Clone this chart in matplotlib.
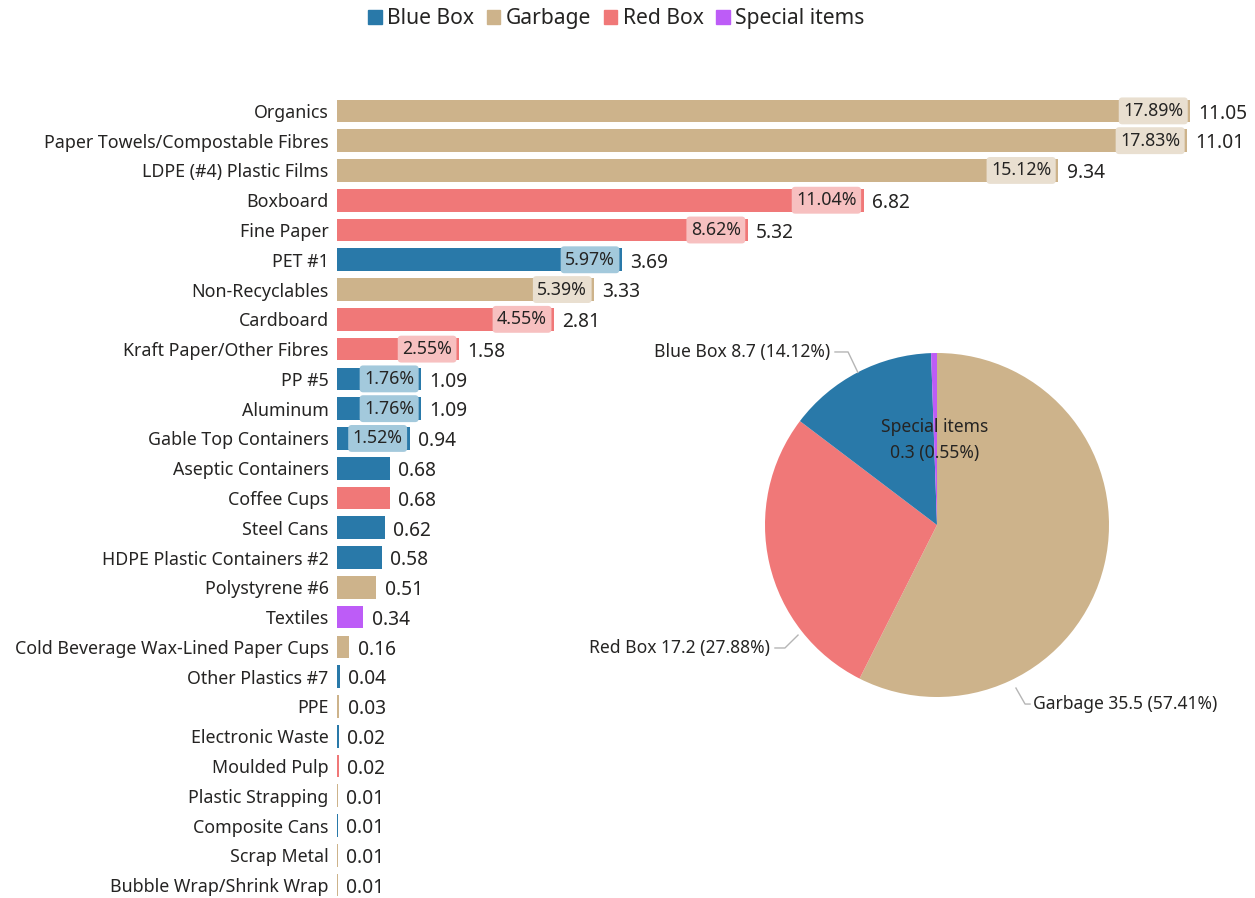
import matplotlib
matplotlib.use("Agg")
import matplotlib.pyplot as plt
from matplotlib.patches import Patch

plt.rcParams['font.family'] = ['Noto Sans', 'DejaVu Sans']

# Category data
categories = ['Organics', 'Paper Towels/Compostable Fibres', 'LDPE (#4) Plastic Films', 'Boxboard',
              'Fine Paper', 'PET #1', 'Non-Recyclables', 'Cardboard', 'Kraft Paper/Other Fibres',
              'PP #5', 'Aluminum', 'Gable Top Containers', 'Aseptic Containers', 'Coffee Cups',
              'Steel Cans', 'HDPE Plastic Containers #2', 'Polystyrene #6', 'Textiles',
              'Cold Beverage Wax-Lined Paper Cups', 'Other Plastics #7', 'PPE', 'Electronic Waste',
              'Moulded Pulp', 'Plastic Strapping', 'Composite Cans', 'Scrap Metal',
              'Bubble Wrap/Shrink Wrap']
values = [11.05, 11.01, 9.34, 6.82, 5.32, 3.69, 3.33, 2.81, 1.58, 1.09, 1.09, 0.94, 0.68, 0.68,
          0.62, 0.58, 0.51, 0.34, 0.16, 0.04, 0.03, 0.02, 0.02, 0.01, 0.01, 0.01, 0.01]
streams = ['Garbage', 'Garbage', 'Garbage', 'Red Box', 'Red Box', 'Blue Box', 'Garbage', 'Red Box',
           'Red Box', 'Blue Box', 'Blue Box', 'Blue Box', 'Blue Box', 'Red Box', 'Blue Box', 'Blue Box',
           'Garbage', 'Special items', 'Garbage', 'Blue Box', 'Garbage', 'Blue Box', 'Red Box',
           'Garbage', 'Blue Box', 'Garbage', 'Garbage']
pct_labels = ['17.89%', '17.83%', '15.12%', '11.04%', '8.62%', '5.97%', '5.39%', '4.55%', '2.55%',
              '1.76%', '1.76%', '1.52%']

# Pie data
pie_names = ['Garbage', 'Red Box', 'Blue Box', 'Special items']
pie_values = ['35.5', '17.2', '8.7', '0.3']
pie_pcts = [57.41, 27.88, 14.12, 0.55]

legend_order = ['Blue Box', 'Garbage', 'Red Box', 'Special items']
colors = {'Blue Box': '#2979a9', 'Garbage': '#cdb38b', 'Red Box': '#f07878', 'Special items': '#bd5cf7'}
light = {'Blue Box': '#a3c9dc', 'Garbage': '#e9dfd0', 'Red Box': '#f7c0c0', 'Special items': '#e0b8f7'}

fig = plt.figure(figsize=(12.55, 8.98), dpi=100)

# Bar chart
ax = fig.add_axes([337 / 1255, 1 - 900 / 898, 888 / 1255, 804 / 898])
ypos = list(range(len(categories)))
ax.barh(ypos, values, height=0.76, color=[colors[s] for s in streams])
ax.set_xlim(0, 11.5)
ax.set_ylim(len(categories) - 0.5, -0.5)
ax.set_yticks(ypos)
ax.set_yticklabels(categories, fontsize=12.8, color='#252423')
ax.tick_params(axis='y', length=0, pad=6)
ax.set_xticks([])
for s in ax.spines.values():
    s.set_visible(False)

for i, v in enumerate(values):
    ax.annotate(f'{v:.2f}', (v, i), xytext=(6, -2), textcoords='offset points',
                va='center', ha='left', fontsize=13.8, color='#252423')
for i, p in enumerate(pct_labels):
    ax.annotate(p, (values[i], i), xytext=(-5, 0), textcoords='offset points',
                va='center', ha='right', fontsize=12.8, color='#252423',
                bbox=dict(boxstyle='round,pad=0.25,rounding_size=0.2',
                          fc=light[streams[i]], ec='none'))

# Legend
handles = [Patch(color=colors[n], label=n) for n in legend_order]
fig.legend(handles=handles, loc='upper center', bbox_to_anchor=(0.491, 1.012), ncol=4,
           frameon=False, fontsize=15.2, handlelength=0.65, handleheight=0.65,
           handletextpad=0.25, columnspacing=0.6, labelcolor='#252423')

# Pie chart
pax = fig.add_axes([765 / 1255, 1 - 697 / 898, 344 / 1255, 344 / 898])
pax.pie(pie_pcts, colors=[colors[n] for n in pie_names], startangle=90, counterclock=False,
        radius=1.0)
pax.set_xlim(-1, 1)
pax.set_ylim(-1, 1)
pax.set_aspect('equal')
pax.axis('off')

line_kw = dict(color='#b5b5b5', lw=1, clip_on=False)
labels = {n: f'{n} {v} ({p:.2f}%)' for n, v, p in zip(pie_names, pie_values, pie_pcts)}
# Blue Box
pax.plot([-0.46, -0.517, -0.593], [0.887, 1.006, 1.006], **line_kw)
pax.text(-0.622, 1.006, labels['Blue Box'], ha='right', va='center', fontsize=12.6, color='#252423')
# Red Box
pax.plot([-0.808, -0.884, -0.942], [-0.640, -0.715, -0.715], **line_kw)
pax.text(-0.971, -0.715, labels['Red Box'], ha='right', va='center', fontsize=12.6, color='#252423')
# Garbage
pax.plot([0.459, 0.512, 0.541], [-0.948, -1.041, -1.041], **line_kw)
pax.text(0.558, -1.041, labels['Garbage'], ha='left', va='center', fontsize=12.6, color='#252423')
# Special items
pax.text(-0.012, 0.494, 'Special items\n0.3 (0.55%)', ha='center', va='center', fontsize=12.6,
         color='#252423', linespacing=1.55)

fig.savefig('out.png', dpi=100)
